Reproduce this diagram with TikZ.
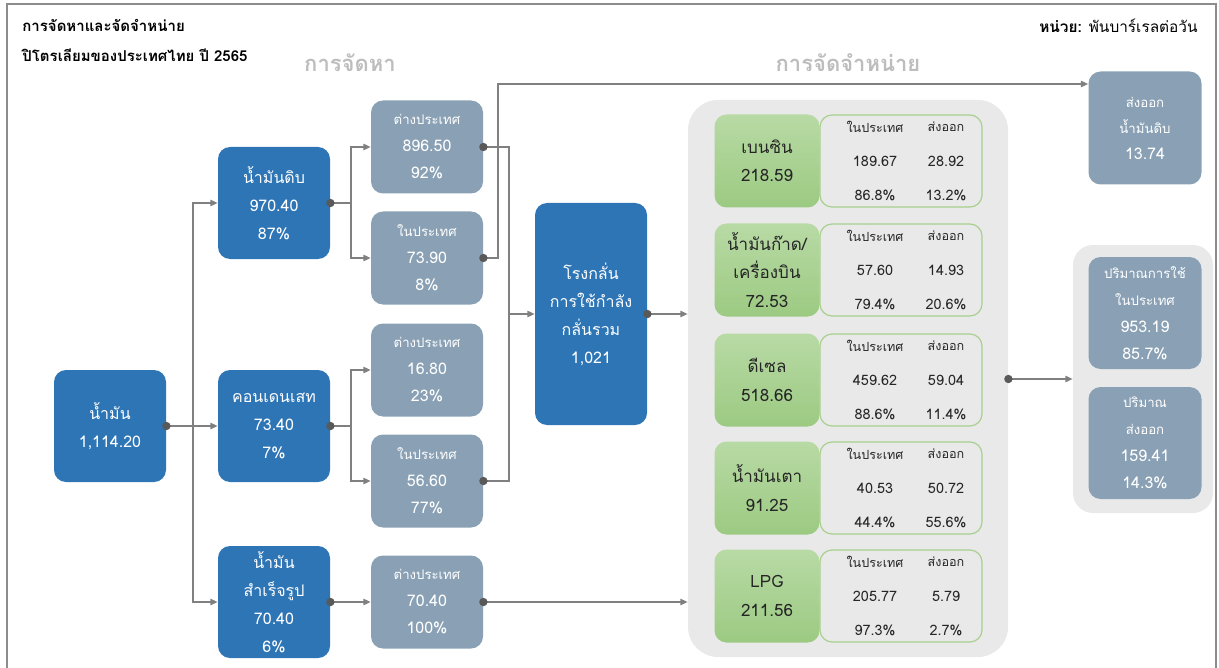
\documentclass[tikz,border=0pt]{standalone}
\usepackage{fontspec}
\setmainfont[Script=Thai]{Loma}
\usetikzlibrary{arrows.meta}

\definecolor{srcblue}{HTML}{2E75B6}
\definecolor{subgrey}{HTML}{8AA1B5}
\definecolor{panelgrey}{HTML}{E9E9E9}
\definecolor{greentop}{HTML}{B8DAA5}
\definecolor{greenbot}{HTML}{9CCA82}
\definecolor{greenline}{HTML}{A8D08D}
\definecolor{linegrey}{HTML}{808080}
\definecolor{dotgrey}{HTML}{595959}
\definecolor{headgrey}{HTML}{BDBDBD}
\definecolor{framegrey}{HTML}{8C8C8C}

\def\lbl#1{{\fontsize{6.6}{13.5}\selectfont #1}}
\def\dotr{2.1pt}

\begin{document}
\begin{tikzpicture}[x=0.5pt, y=-0.5pt,
    nodes = {font=\fontsize{8}{14}\selectfont},
    srcbox/.style = {fill=srcblue, text=white, rounded corners=6pt, align=center,
      inner sep=0pt, minimum width=56pt, minimum height=56pt},
    subbox/.style = {fill=subgrey, text=white, rounded corners=6pt, align=center,
      inner sep=0pt, minimum width=56pt, minimum height=46.5pt,
      font=\fontsize{8}{13.5}\selectfont},
    fuelbox/.style = {top color=greentop, bottom color=greenbot, rounded corners=6pt,
      align=center, inner sep=0pt, minimum width=52.5pt, minimum height=46.5pt,
      text=black!85, font=\fontsize{8.5}{14.2}\selectfont},
    tabbox/.style = {draw=greenline, line width=0.6pt, rounded corners=6pt,
      minimum width=81pt, minimum height=46pt, inner sep=0pt},
    panel/.style = {fill=panelgrey, inner sep=0pt},
    titletext/.style = {anchor=base west, inner sep=0pt,
      font=\fontsize{7.5}{9}\selectfont\bfseries},
    headtext/.style = {text=headgrey, font=\fontsize{11}{13}\selectfont\bfseries},
    tabhead/.style = {text=black!85, font=\fontsize{6.3}{8}\selectfont},
    tabval/.style = {text=black!85, font=\fontsize{7.2}{9}\selectfont},
    tie/.style = {draw=linegrey, line width=0.6pt},
    link/.style = {tie, -{Triangle[length=3.6pt,width=3.2pt]}}
  ]
  \useasboundingbox (0,0) rectangle (1219,668);
  \draw[framegrey, line width=1pt] (7,668) -- (7,4) -- (1216,4) -- (1216,668);

  % Titles
  \node[titletext] (title1) at (22,32) {การจัดหาและจัดจำหน่าย};
  \node[titletext] (title2) at (22,62) {ปิโตรเลียมของประเทศไทย ปี 2565};
  \node[anchor=base east, inner sep=0pt, font=\fontsize{7.7}{9}\selectfont]
    (unit) at (1198,33) {\textbf{หน่วย:} พันบาร์เรลต่อวัน};
  \node[headtext, anchor=base] (supplyhead) at (350,72) {การจัดหา};
  \node[headtext, anchor=base] (salehead) at (848,72) {การจัดจำหน่าย};

  % Supply side
  \node[srcbox] (oil) at (110,426) {น้ำมัน\\1,114.20};
  \node[srcbox] (crude) at (274,203) {น้ำมันดิบ\\970.40\\87\%};
  \node[srcbox] (cond) at (274,426) {คอนเดนเสท\\73.40\\7\%};
  \node[srcbox] (prod) at (274,602) {น้ำมัน\\สำเร็จรูป\\70.40\\6\%};

  \node[subbox] (crudeimp) at (427,147) {\lbl{ต่างประเทศ}\\896.50\\92\%};
  \node[subbox] (crudedom) at (427,258) {\lbl{ในประเทศ}\\73.90\\8\%};
  \node[subbox] (condimp) at (427,370) {\lbl{ต่างประเทศ}\\16.80\\23\%};
  \node[subbox] (conddom) at (427,481) {\lbl{ในประเทศ}\\56.60\\77\%};
  \node[subbox] (prodimp) at (427,602) {\lbl{ต่างประเทศ}\\70.40\\100\%};

  \node[srcbox, minimum height=111pt] (refinery) at (591,314)
    {โรงกลั่น\\การใช้กำลัง\\กลั่นรวม\\1,021};

  % Sales side
  \node[panel, rounded corners=15pt, minimum width=160pt, minimum height=278.5pt]
    (sales) at (848,378.5) {};
  \foreach \name/\total/\dom/\exp/\dompct/\exppct/\ypos [count=\i] in {
      เบนซิน/218.59/189.67/28.92/86.8/13.2/161,
      {น้ำมันก๊าด/\\เครื่องบิน}/72.53/57.60/14.93/79.4/20.6/270,
      ดีเซล/518.66/459.62/59.04/88.6/11.4/380,
      น้ำมันเตา/91.25/40.53/50.72/44.4/55.6/488,
      LPG/211.56/205.77/5.79/97.3/2.7/596
    } {
      \node[tabbox] (tab\i) at (901,\ypos) {};
      \node[fuelbox] (fuel\i) at (767,\ypos) {\name\\\total};
      \node[tabhead] (domh\i) at (875,\ypos-34) {ในประเทศ};
      \node[tabhead] (exph\i) at (946,\ypos-34) {ส่งออก};
      \node[tabval] (domv\i) at (875,\ypos) {\dom};
      \node[tabval] (expv\i) at (946,\ypos) {\exp};
      \node[tabval] (domp\i) at (875,\ypos+34) {\dompct\%};
      \node[tabval] (expp\i) at (946,\ypos+34) {\exppct\%};
    };

  \node[subbox, minimum width=56.5pt, minimum height=56.5pt,
    font=\fontsize{8}{13}\selectfont] (crudeexp) at (1145,128)
    {\lbl{ส่งออก}\\\lbl{น้ำมันดิบ}\\13.74};
  \node[panel, rounded corners=10pt, minimum width=70pt, minimum height=134pt]
    (totals) at (1143,379) {};
  \node[subbox, minimum width=56.5pt, minimum height=56pt] (domuse) at (1145,313)
    {\lbl{ปริมาณการใช้}\\\lbl{ในประเทศ}\\953.19\\85.7\%};
  \node[subbox, minimum width=56.5pt, minimum height=56pt] (expvol) at (1145,443)
    {\lbl{ปริมาณ}\\\lbl{ส่งออก}\\159.41\\14.3\%};

  % Connectors
  \coordinate (split1) at (193,426);
  \coordinate (split2) at (351,203);
  \coordinate (split3) at (351,426);
  \coordinate (merge) at (509,314);
  \coordinate (exitup) at (498,84);
  \draw[tie] (oil.east) -- (split1);
  \draw[link] (split1) |- (crude.west);
  \draw[link] (split1) -- (cond.west);
  \draw[link] (split1) |- (prod.west);
  \draw[tie] (crude.east) -- (split2);
  \draw[link] (split2) |- (crudeimp.west);
  \draw[link] (split2) |- (crudedom.west);
  \draw[tie] (cond.east) -- (split3);
  \draw[link] (split3) |- (condimp.west);
  \draw[link] (split3) |- (conddom.west);
  \draw[link] (prod.east) -- (prodimp.west);
  \draw[tie] (crudeimp.east) -| (merge);
  \draw[tie] (conddom.east) -| (merge);
  \draw[link] (merge) -- (refinery.west);
  \draw[link] (crudedom.east) -| (exitup) -- (exitup -| crudeexp.west);
  \draw[link] (refinery.east) -- (refinery.east -| sales.west);
  \draw[link] (prodimp.east) -- (prodimp.east -| sales.west);
  \draw[link] (sales.east |- totals.west) -- (totals.west);

  % Dots where the lines leave a box
  \foreach \n in {oil, crude, cond, prod, crudeimp, crudedom, conddom, prodimp, refinery}
    \fill[dotgrey] (\n.east) circle (\dotr);
  \fill[dotgrey] (sales.east |- totals.west) circle (\dotr);
\end{tikzpicture}
\end{document}
